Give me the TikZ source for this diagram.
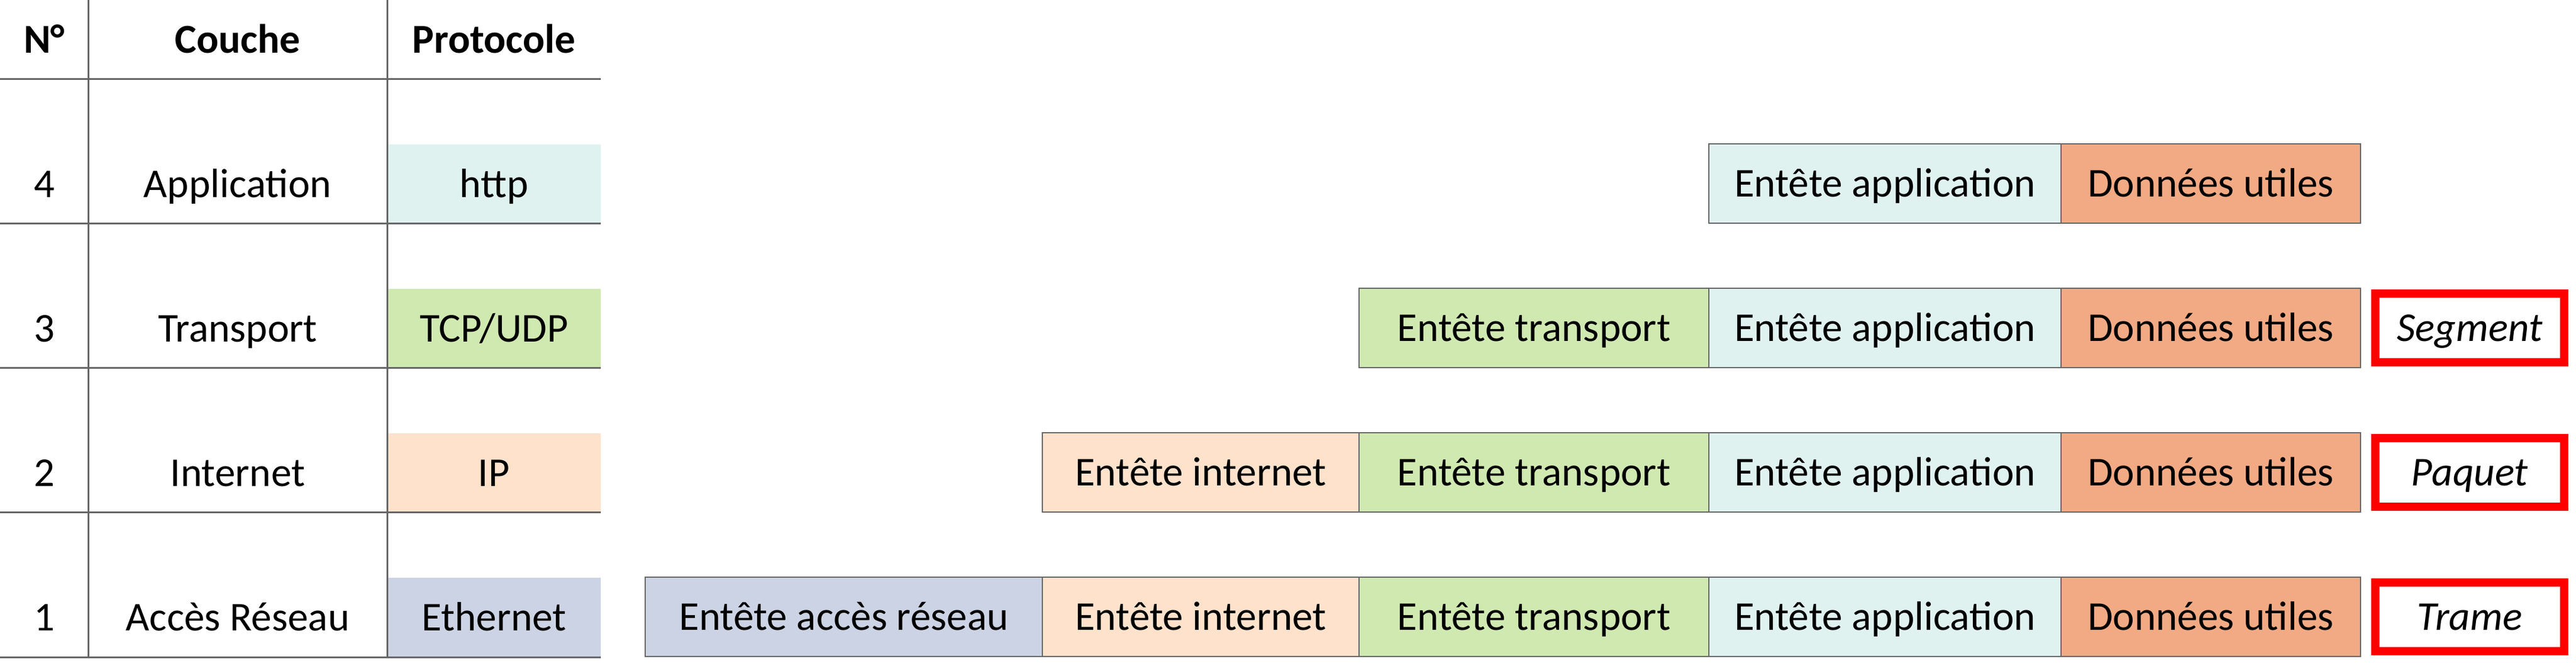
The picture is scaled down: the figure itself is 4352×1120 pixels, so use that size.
\documentclass[tikz,border=0pt]{standalone}
\usepackage{fontspec}
\setmainfont{Carlito}
\usepackage{tikz}
\usetikzlibrary{positioning}
\definecolor{gridgray}{HTML}{666666}
\definecolor{appcol}{HTML}{DFF2F0}
\definecolor{tracol}{HTML}{D0E9B1}
\definecolor{intcol}{HTML}{FEE2CC}
\definecolor{acccol}{HTML}{CCD3E4}
\definecolor{doncol}{HTML}{F1AA84}
\definecolor{lblred}{HTML}{FF0000}
\newcommand{\cellfont}{\fontsize{19.7}{23}\selectfont}
\tikzset{
	rule/.style={gridgray,line width=0.3mm},
	txt/.style={font=\cellfont,inner sep=0pt,text height=17.7pt,text depth=5pt},
	hdr/.style={txt,font=\cellfont\bfseries},
	proto/.style={txt,minimum width=36.1mm,minimum height=13.4mm},
	pdu/.style={txt,draw=gridgray,line width=0.25mm,minimum height=13.4mm},
	lbl/.style={txt,draw=lblred,line width=1.4mm,minimum width=31.9mm,minimum height=11.6mm,font=\cellfont\itshape}
}

\begin{document}
\begin{tikzpicture}[x=0.1mm,y=-0.1mm,outer sep=0pt,node distance=11mm]
			\useasboundingbox (0,0) rectangle (4352,1120);
			\node[hdr] (hnum) at (75,67) {N°};
			\node[hdr] (hcou) at (401.5,67) {Couche};
			\node[hdr] (hpro) at (834.5,67) {Protocole};
			\node[proto,fill=appcol] (http) at (834.5,311) {http};
			\node[proto,fill=tracol] (tcp) at (834.5,555) {TCP/UDP};
			\node[proto,fill=intcol] (ip) at (834.5,799) {IP};
			\node[proto,fill=acccol] (eth) at (834.5,1043) {Ethernet};
			\node[txt] (n4) at (75,311) {4};
			\node[txt] (n3) at (75,555) {3};
			\node[txt] (n2) at (75,799) {2};
			\node[txt] (n1) at (75,1043) {1};
			\node[txt] (capp) at (401.5,311) {Application};
			\node[txt] (ctra) at (401.5,555) {Transport};
			\node[txt] (cint) at (401.5,799) {Internet};
			\node[txt] (cacc) at (401.5,1043) {Accès Réseau};
			\draw[rule] (149,0) -- (149,1110) (654,0) -- (654,1110)
				(0,134) -- (1015,134) (0,378) -- (1015,378) (0,622) -- (1015,622)
				(0,866) -- (1015,866) (0,1110) -- (1015,1110);
			\node[pdu,fill=acccol,minimum width=67.1mm,anchor=west] (acc1) at (1090,1042) {Entête accès réseau};
			\node[pdu,fill=intcol,minimum width=53.5mm,right=0pt of acc1] (int1) {Entête internet};
			\node[pdu,fill=tracol,minimum width=59.1mm,right=0pt of int1] (tra1) {Entête transport};
			\node[pdu,fill=appcol,minimum width=59.5mm,right=0pt of tra1] (app1) {Entête application};
			\node[pdu,fill=doncol,minimum width=50.6mm,right=0pt of app1] (don1) {Données utiles};
			\node[lbl,right=2.5mm of don1] (trame) {Trame};
			\node[pdu,fill=intcol,minimum width=53.5mm,above=of int1] (int2) {Entête internet};
			\node[pdu,fill=tracol,minimum width=59.1mm,right=0pt of int2] (tra2) {Entête transport};
			\node[pdu,fill=appcol,minimum width=59.5mm,right=0pt of tra2] (app2) {Entête application};
			\node[pdu,fill=doncol,minimum width=50.6mm,right=0pt of app2] (don2) {Données utiles};
			\node[lbl,right=2.5mm of don2] (paquet) {Paquet};
			\node[pdu,fill=tracol,minimum width=59.1mm,above=of tra2] (tra3) {Entête transport};
			\node[pdu,fill=appcol,minimum width=59.5mm,right=0pt of tra3] (app3) {Entête application};
			\node[pdu,fill=doncol,minimum width=50.6mm,right=0pt of app3] (don3) {Données utiles};
			\node[lbl,right=2.5mm of don3] (segment) {Segment};
			\node[pdu,fill=appcol,minimum width=59.5mm,above=of app3] (app4) {Entête application};
			\node[pdu,fill=doncol,minimum width=50.6mm,right=0pt of app4] (don4) {Données utiles};
		\end{tikzpicture}
\end{document}
